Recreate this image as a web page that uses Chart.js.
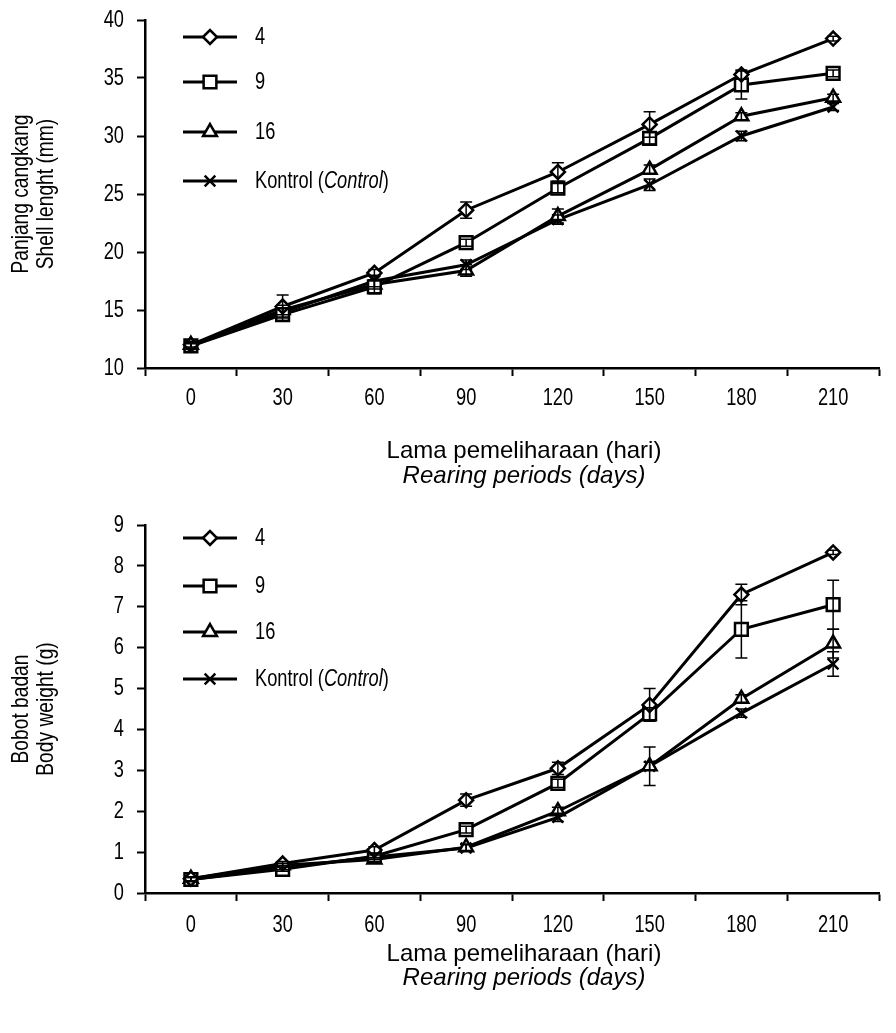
<!DOCTYPE html>
<html>
<head>
<meta charset="utf-8">
<script src="https://cdn.jsdelivr.net/npm/chart.js@4.4.1/dist/chart.umd.min.js"></script>
<style>
  html, body { margin: 0; padding: 0; background: #fff; }
  #wrap { position: relative; width: 896px; height: 1033px; }
  .box { position: absolute; left: 0; width: 896px; }
</style>
</head>
<body>
<div id="wrap">
  <div class="box" style="top:0;height:500px"><canvas id="shellChart"></canvas></div>
  <div class="box" style="top:500px;height:533px"><canvas id="weightChart"></canvas></div>
</div>
<script>
// rearing days (x categories)
const days = ['0', '30', '60', '90', '120', '150', '180', '210'];

// shell length (mm)
const shell4 = [12.0, 15.3, 18.2, 23.6, 26.9, 31.0, 35.3, 38.4];
const shell9 = [11.9, 14.6, 17.0, 20.8, 25.5, 29.8, 34.4, 35.4];
const shell16 = [12.0, 15.0, 17.2, 18.4, 23.1, 27.1, 31.7, 33.3];
const shellCtrl = [11.9, 14.8, 17.5, 18.9, 22.8, 25.8, 30.0, 32.5];
const shellErr4 = [0.3, 1.0, 0.3, 0.7, 0.8, 1.1, 0.4, 0.2];
const shellErr9 = [0.3, 0.5, 0.6, 0.3, 0.4, 0.5, 1.2, 0.3];
const shellErr16 = [0.2, 0.4, 0.4, 0.5, 0.6, 0.4, 0.3, 0.3];
const shellErrCtrl = [0.2, 0.4, 0.5, 0.4, 0.4, 0.5, 0.4, 0.3];

// body weight (g)
const weight4 = [0.35, 0.72, 1.05, 2.27, 3.05, 4.6, 7.3, 8.33];
const weight9 = [0.33, 0.58, 0.9, 1.55, 2.68, 4.38, 6.45, 7.05];
const weight16 = [0.35, 0.68, 0.82, 1.12, 2.0, 3.1, 4.75, 6.1];
const weightCtrl = [0.33, 0.62, 0.88, 1.1, 1.85, 3.1, 4.4, 5.6];
const weightErr4 = [0.05, 0.05, 0.08, 0.15, 0.15, 0.4, 0.25, 0.05];
const weightErr9 = [0.05, 0.05, 0.08, 0.08, 0.1, 0.15, 0.7, 0.6];
const weightErr16 = [0.05, 0.05, 0.05, 0.08, 0.1, 0.47, 0.1, 0.35];
const weightErrCtrl = [0.05, 0.05, 0.05, 0.08, 0.1, 0.1, 0.1, 0.3];

// narrow look: Arial-metric font squeezed horizontally
const FONT = "'Liberation Sans', Arial, sans-serif";
const NARROW = 0.76;

// legend labels: [text, italic]
const legendLabels = [
    [['4', false]],
    [['9', false]],
    [['16', false]],
    [['Kontrol (', false], ['Control', true], [')', false]]
];

function drawText(ctx, txt, x, y, font, k, align, rot) {
    ctx.save();
    ctx.translate(x, y);
    if (rot) ctx.rotate(rot);
    ctx.scale(k, 1);
    ctx.font = font;
    ctx.textAlign = align;
    ctx.textBaseline = 'middle';
    ctx.fillStyle = '#000';
    ctx.fillText(txt, 0, 0);
    ctx.restore();
}

// tick labels and y title, drawn squeezed
const axisText = {
    id: 'axisText',
    afterDraw(chart, args, opts) {
        const ctx = chart.ctx;
        const xs = chart.scales.x, ys = chart.scales.y;
        const f = '24px ' + FONT;
        ys.ticks.forEach((t, i) => {
            drawText(ctx, String(t.value), 124, ys.getPixelForTick(i), f, NARROW, 'right');
        });
        xs.ticks.forEach((t, i) => {
            drawText(ctx, chart.data.labels[i], xs.getPixelForTick(i), xs.top + opts.labelDy, f, NARROW, 'center');
        });
        const cy = (chart.chartArea.top + chart.chartArea.bottom) / 2;
        drawText(ctx, opts.yTitle[0], 21, cy, '24px ' + FONT, 0.8, 'center', -Math.PI / 2);
        drawText(ctx, opts.yTitle[1], 46, cy, '24px ' + FONT, 0.8, 'center', -Math.PI / 2);
    }
};

const markerLegend = {
    id: 'markerLegend',
    afterDraw(chart, args, opts) {
        const ctx = chart.ctx;
        const top = chart.chartArea.top;
        ctx.save();
        chart.data.datasets.forEach((ds, i) => {
            const y = top + opts.rows[i];
            ctx.strokeStyle = '#000';
            ctx.lineWidth = 3;
            ctx.beginPath();
            ctx.moveTo(opts.x0, y);
            ctx.lineTo(opts.x1, y);
            ctx.stroke();
            ctx.fillStyle = '#fff';
            ctx.lineWidth = ds.pointBorderWidth;
            Chart.helpers.drawPoint(ctx, {
                pointStyle: ds.pointStyle,
                radius: ds.pointRadius,
                borderWidth: ds.pointBorderWidth,
                rotation: 0
            }, (opts.x0 + opts.x1) / 2, y);
            let x = opts.textX;
            legendLabels[i].forEach(([txt, it]) => {
                const font = (it ? 'italic ' : '') + '24px ' + FONT;
                drawText(ctx, txt, x, y, font, NARROW, 'left');
                ctx.font = font;
                x += ctx.measureText(txt).width * NARROW;
            });
        });
        ctx.restore();
    }
};

const errorBars = {
    id: 'errorBars',
    afterDatasetsDraw(chart) {
        const ctx = chart.ctx;
        const yScale = chart.scales.y;
        ctx.save();
        ctx.strokeStyle = '#000';
        ctx.lineWidth = 1.5;
        chart.data.datasets.forEach((ds, i) => {
            const meta = chart.getDatasetMeta(i);
            meta.data.forEach((pt, j) => {
                const e = ds.errors[j];
                if (!e) return;
                const yt = yScale.getPixelForValue(ds.data[j] + e);
                const yb = yScale.getPixelForValue(ds.data[j] - e);
                ctx.beginPath();
                ctx.moveTo(pt.x, yt);
                ctx.lineTo(pt.x, yb);
                ctx.moveTo(pt.x - 6, yt);
                ctx.lineTo(pt.x + 6, yt);
                ctx.moveTo(pt.x - 6, yb);
                ctx.lineTo(pt.x + 6, yb);
                ctx.stroke();
            });
        });
        ctx.restore();
    }
};

const xTitle = {
    id: 'xTitle',
    afterDraw(chart, args, opts) {
        const ctx = chart.ctx;
        const b = chart.chartArea.bottom;
        drawText(ctx, 'Lama pemeliharaan (hari)', opts.cx, b + opts.dy[0], '24px ' + FONT, 1.0, 'center');
        drawText(ctx, 'Rearing periods (days)', opts.cx, b + opts.dy[1], 'italic 24px ' + FONT, 1.0, 'center');
    }
};

function makeDataset(data, errors, style, radius) {
    return {
        data: data,
        errors: errors,
        borderColor: '#000',
        borderWidth: 3,
        pointStyle: style,
        pointRadius: radius,
        pointBorderWidth: 2.5,
        pointBorderColor: '#000',
        pointBackgroundColor: '#fff',
        fill: false,
        tension: 0
    };
}

function createGrowthChart(canvasId, sets, yOpts, layout) {
    const ctx = document.getElementById(canvasId).getContext('2d');
    new Chart(ctx, {
        type: 'line',
        data: {
            labels: days,
            datasets: [
                makeDataset(sets[0][0], sets[0][1], 'rectRot', 7),
                makeDataset(sets[1][0], sets[1][1], 'rect', 9),
                makeDataset(sets[2][0], sets[2][1], 'triangle', 8),
                makeDataset(sets[3][0], sets[3][1], 'crossRot', 7.5)
            ]
        },
        options: {
            responsive: true,
            maintainAspectRatio: false,
            animation: false,
            layout: { padding: { top: layout.top, right: 17, left: 0, bottom: 0 } },
            plugins: {
                legend: { display: false },
                tooltip: { enabled: false },
                markerLegend: { rows: layout.rows, x0: 183, x1: 237, textX: 255 },
                xTitle: { cx: 524, dy: layout.titleDy },
                axisText: { yTitle: yOpts.title, labelDy: layout.labelDy }
            },
            scales: {
                x: {
                    offset: true,
                    afterFit: (s) => { s.height = layout.xHeight; },
                    border: { display: true, color: '#000', width: 2.5 },
                    grid: { display: true, drawOnChartArea: false, drawTicks: true, offset: true,
                            tickLength: 8, tickWidth: 2, tickColor: '#000' },
                    ticks: { display: false }
                },
                y: {
                    min: yOpts.min,
                    max: yOpts.max,
                    afterFit: (s) => { s.width = 145; },
                    border: { display: true, color: '#000', width: 2.5 },
                    grid: { display: true, drawOnChartArea: false, drawTicks: true,
                            tickLength: 8, tickWidth: 2, tickColor: '#000' },
                    ticks: { display: false, stepSize: yOpts.step }
                }
            }
        },
        plugins: [errorBars, markerLegend, xTitle, axisText]
    });
}

createGrowthChart('shellChart',
    [[shell4, shellErr4], [shell9, shellErr9], [shell16, shellErr16], [shellCtrl, shellErrCtrl]],
    { min: 10, max: 40, step: 5, title: ['Panjang cangkang', 'Shell lenght (mm)'] },
    { top: 20, xHeight: 132, rows: [17, 62, 112, 161], titleDy: [83, 108], labelDy: 30 });

createGrowthChart('weightChart',
    [[weight4, weightErr4], [weight9, weightErr9], [weight16, weightErr16], [weightCtrl, weightErrCtrl]],
    { min: 0, max: 9, step: 1, title: ['Bobot badan', 'Body weight (g)'] },
    { top: 25, xHeight: 140, rows: [13, 61, 107, 154], titleDy: [61, 85], labelDy: 32 });
</script>
</body>
</html>
